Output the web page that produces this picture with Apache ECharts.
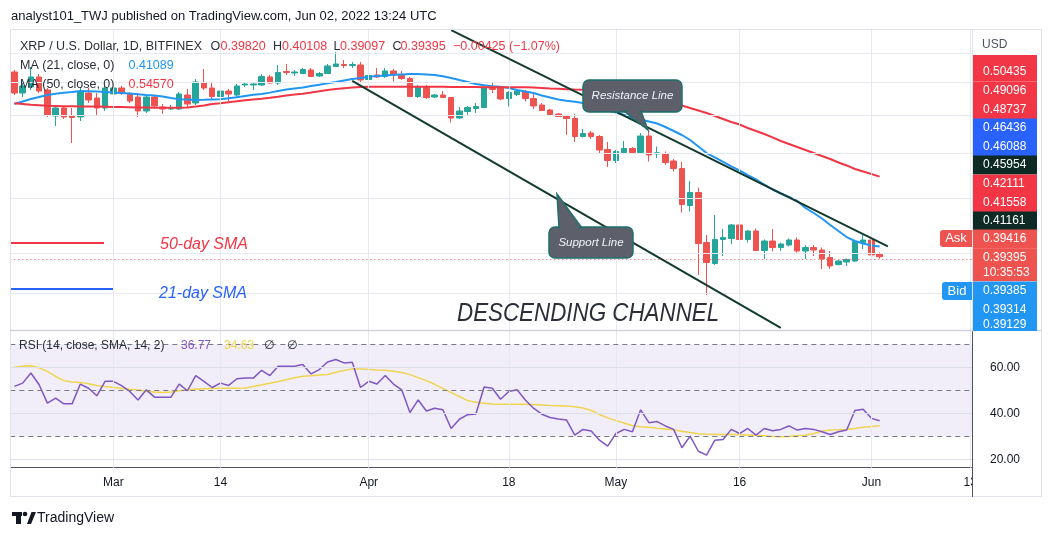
<!DOCTYPE html>
<html>
<head>
<meta charset="utf-8">
<script src="https://cdn.jsdelivr.net/npm/echarts@6/dist/echarts.min.js"></script>
<style>
html, body { margin: 0; padding: 0; background: #fff; }
#chart { width: 1052px; height: 536px; }
</style>
</head>
<body>
<div id="chart"></div>
<script>
// daily candles from 2022-02-17, axis runs on to 2022-06-13
var dates = [];
for (var i = 0; i < 117; i++) {
    dates.push(new Date(Date.UTC(2022, 1, 17 + i)).toISOString().slice(0, 10));
}

// [open, close, low, high]
var candles = [
    [0.8349, 0.7665, 0.7603, 0.8417], [0.7665, 0.7887, 0.7541, 0.8017], [0.7855, 0.8181, 0.7759, 0.8520],
    [0.8181, 0.7727, 0.7665, 0.8281], [0.7759, 0.7010, 0.6953, 0.7823], [0.6982, 0.7212, 0.6703, 0.7271],
    [0.7212, 0.6953, 0.6897, 0.7271], [0.6982, 0.6939, 0.6255, 0.7212], [0.6953, 0.7696, 0.6840, 0.7823],
    [0.7665, 0.7450, 0.7360, 0.7823], [0.7511, 0.7212, 0.7010, 0.7665], [0.7212, 0.7823, 0.7125, 0.7919],
    [0.7634, 0.7823, 0.7541, 0.7887], [0.7823, 0.7665, 0.7603, 0.7887], [0.7634, 0.7420, 0.7360, 0.7696],
    [0.7541, 0.7125, 0.6953, 0.7603], [0.7125, 0.7541, 0.7067, 0.7603], [0.7541, 0.7271, 0.7212, 0.7603],
    [0.7241, 0.7183, 0.7039, 0.7330], [0.7182, 0.7227, 0.7154, 0.7300], [0.7182, 0.7634, 0.7154, 0.7696],
    [0.7603, 0.7330, 0.7212, 0.7792], [0.7360, 0.8017, 0.7300, 0.8115], [0.8000, 0.7823, 0.7759, 0.8451],
    [0.7823, 0.7557, 0.7450, 0.8017], [0.7557, 0.7727, 0.7511, 0.7792], [0.7727, 0.7634, 0.7420, 0.7792],
    [0.7603, 0.7887, 0.7541, 0.7952], [0.7919, 0.7952, 0.7855, 0.8017], [0.7919, 0.7952, 0.7759, 0.8017],
    [0.7919, 0.8198, 0.7887, 0.8281], [0.8181, 0.7984, 0.7952, 0.8248], [0.7984, 0.8332, 0.7919, 0.8590],
    [0.8366, 0.8332, 0.8248, 0.8625], [0.8315, 0.8349, 0.8214, 0.8417], [0.8298, 0.8434, 0.8281, 0.8486],
    [0.8417, 0.8198, 0.8181, 0.8486], [0.8214, 0.8298, 0.8181, 0.8349], [0.8298, 0.8555, 0.8281, 0.8625],
    [0.8538, 0.8625, 0.8520, 0.9055], [0.8607, 0.8573, 0.8486, 0.8766], [0.8573, 0.8607, 0.8486, 0.8695],
    [0.8590, 0.8082, 0.7984, 0.8695], [0.8098, 0.8231, 0.8049, 0.8315], [0.8248, 0.8181, 0.8148, 0.8486],
    [0.8198, 0.8383, 0.8148, 0.8486], [0.8383, 0.8248, 0.8033, 0.8451], [0.8264, 0.8132, 0.8082, 0.8383],
    [0.8132, 0.7557, 0.7541, 0.8181], [0.7557, 0.7855, 0.7511, 0.7919], [0.7855, 0.7526, 0.7480, 0.7919],
    [0.7541, 0.7603, 0.7511, 0.7634], [0.7603, 0.7526, 0.7511, 0.7727], [0.7526, 0.6925, 0.6799, 0.7541],
    [0.6925, 0.7125, 0.6897, 0.7241], [0.7110, 0.7227, 0.7010, 0.7271], [0.7197, 0.7256, 0.7067, 0.7360],
    [0.7227, 0.7839, 0.7212, 0.7919], [0.7871, 0.7775, 0.7665, 0.7984], [0.7823, 0.7480, 0.7450, 0.7887],
    [0.7495, 0.7680, 0.7256, 0.7727], [0.7618, 0.7727, 0.7572, 0.7792], [0.7711, 0.7495, 0.7405, 0.7759],
    [0.7495, 0.7271, 0.7182, 0.7665], [0.7300, 0.7140, 0.7125, 0.7360], [0.7154, 0.7024, 0.7010, 0.7182],
    [0.7039, 0.6968, 0.6953, 0.7067], [0.6982, 0.6911, 0.6462, 0.7010], [0.6911, 0.6423, 0.6281, 0.7039],
    [0.6423, 0.6502, 0.6397, 0.6621], [0.6515, 0.6423, 0.6358, 0.6568], [0.6423, 0.6080, 0.6006, 0.6462],
    [0.6092, 0.5826, 0.5672, 0.6281], [0.5826, 0.6043, 0.5767, 0.6080], [0.6018, 0.6117, 0.5994, 0.6306],
    [0.6117, 0.6018, 0.5982, 0.6154], [0.6018, 0.6436, 0.6006, 0.6515], [0.6436, 0.5958, 0.5803, 0.6595],
    [0.5986, 0.6011, 0.5886, 0.6168], [0.5994, 0.5779, 0.5719, 0.6043], [0.5814, 0.5639, 0.5571, 0.5862],
    [0.5639, 0.4872, 0.4716, 0.5791], [0.4852, 0.5115, 0.4735, 0.5360], [0.5115, 0.4157, 0.3658, 0.5220],
    [0.4174, 0.3849, 0.3372, 0.4304], [0.3833, 0.4226, 0.3810, 0.4668], [0.4226, 0.4260, 0.3951, 0.4411],
    [0.4243, 0.4483, 0.4149, 0.4501], [0.4483, 0.4226, 0.4074, 0.4501], [0.4226, 0.4374, 0.4174, 0.4392],
    [0.4374, 0.4041, 0.4033, 0.4419], [0.4041, 0.4200, 0.3904, 0.4226], [0.4200, 0.4090, 0.4025, 0.4410],
    [0.4090, 0.4149, 0.4033, 0.4174], [0.4132, 0.4217, 0.4107, 0.4243], [0.4217, 0.4033, 0.4008, 0.4260],
    [0.4033, 0.4090, 0.3904, 0.4132], [0.4090, 0.4049, 0.3951, 0.4132], [0.4049, 0.3904, 0.3748, 0.4090],
    [0.3928, 0.3794, 0.3748, 0.4033], [0.3818, 0.3872, 0.3803, 0.3888], [0.3856, 0.3896, 0.3794, 0.3911],
    [0.3872, 0.4191, 0.3856, 0.4200], [0.4174, 0.4217, 0.4065, 0.4304], [0.4217, 0.3968, 0.3888, 0.4234],
    [0.39820, 0.39395, 0.39097, 0.40108]
];

var ma21 = [
    0.7330, 0.7405, 0.7480, 0.7541, 0.7603, 0.7640, 0.7671, 0.7696, 0.7727, 0.7721,
    0.7711, 0.7696, 0.7680, 0.7665, 0.7649, 0.7628, 0.7603, 0.7588, 0.7557, 0.7511,
    0.7471, 0.7462, 0.7453, 0.7456, 0.7465, 0.7474, 0.7505, 0.7535, 0.7572, 0.7609,
    0.7634, 0.7677, 0.7727, 0.7775, 0.7810, 0.7839, 0.7887, 0.7930, 0.7975, 0.8017,
    0.8066, 0.8115, 0.8148, 0.8191, 0.8214, 0.8234, 0.8254, 0.8268, 0.8278, 0.8281,
    0.8268, 0.8248, 0.8204, 0.8148, 0.8082, 0.8017, 0.7952, 0.7910, 0.7878, 0.7862,
    0.7823, 0.7759, 0.7711, 0.7665, 0.7588, 0.7526, 0.7465, 0.7426, 0.7396, 0.7360,
    0.7300, 0.7227, 0.7140, 0.7082, 0.7010, 0.6939, 0.6882, 0.6826, 0.6771, 0.6676,
    0.6568, 0.6462, 0.6332, 0.6166, 0.6006, 0.5898, 0.5791, 0.5687, 0.5594, 0.5492,
    0.5393, 0.5284, 0.5178, 0.5095, 0.5024, 0.4942, 0.4803, 0.4706, 0.4603, 0.4483,
    0.4374, 0.4268, 0.4200, 0.4157, 0.4124, 0.41089
];

var ma50 = [
    0.7351, 0.7330, 0.7307, 0.7292, 0.7277, 0.7271, 0.7265, 0.7262, 0.7259, 0.7256,
    0.7253, 0.7250, 0.7245, 0.7239, 0.7233, 0.7227, 0.7224, 0.7221, 0.7221, 0.7221,
    0.7221, 0.7227, 0.7256, 0.7286, 0.7330, 0.7351, 0.7384, 0.7414, 0.7441, 0.7468,
    0.7489, 0.7517, 0.7551, 0.7588, 0.7618, 0.7640, 0.7680, 0.7721, 0.7759, 0.7792,
    0.7817, 0.7839, 0.7855, 0.7862, 0.7865, 0.7865, 0.7865, 0.7865, 0.7865, 0.7862,
    0.7862, 0.7862, 0.7862, 0.7858, 0.7855, 0.7855, 0.7852, 0.7849, 0.7849, 0.7846,
    0.7846, 0.7849, 0.7846, 0.7836, 0.7823, 0.7810, 0.7798, 0.7785, 0.7775, 0.7766,
    0.7753, 0.7727, 0.7696, 0.7655, 0.7609, 0.7572, 0.7548, 0.7511, 0.7462, 0.7405,
    0.7345, 0.7286, 0.7212, 0.7140, 0.7067, 0.6982, 0.6897, 0.6813, 0.6744, 0.6649,
    0.6568, 0.6489, 0.6399, 0.6306, 0.6230, 0.6154, 0.6080, 0.6006, 0.5934, 0.5862,
    0.5779, 0.5710, 0.5628, 0.5571, 0.5515, 0.5457
];

var rsi = [
    51.7, 53.1, 57.5, 52.4, 44.4, 46.6, 44.1, 44.1, 52.7, 50.9,
    47.6, 53.9, 53.9, 52.0, 49.5, 45.8, 50.2, 47.0, 47.0, 47.0,
    52.7, 49.8, 56.4, 53.9, 51.2, 53.1, 52.1, 55.0, 55.3, 55.3,
    58.7, 56.4, 60.4, 60.4, 60.4, 61.2, 57.1, 59.0, 62.3, 63.4,
    61.9, 62.2, 51.2, 53.9, 52.7, 56.4, 52.7, 50.2, 40.3, 45.8,
    41.0, 42.2, 41.5, 33.4, 37.4, 39.4, 39.7, 51.4, 50.9, 46.1,
    49.5, 50.2, 45.8, 42.2, 39.6, 38.2, 37.5, 37.1, 30.5, 33.0,
    32.3, 28.3, 25.7, 31.2, 33.0, 32.0, 41.5, 35.9, 36.4, 34.5,
    33.0, 25.0, 30.1, 23.5, 21.8, 28.3, 28.6, 33.0, 31.2, 33.4,
    30.5, 33.4, 32.4, 33.0, 34.5, 32.7, 33.4, 33.0, 32.0, 30.8,
    32.0, 32.7, 41.2, 41.8, 37.8, 36.77
];

var rsiMa = [
    60.0, 60.5, 60.7, 59.8, 58.2, 56.0, 54.2, 53.6, 53.4, 52.8,
    52.1, 51.6, 51.2, 50.8, 50.4, 50.1, 49.6, 49.2, 49.0, 49.3,
    49.8, 50.2, 50.5, 50.7, 50.8, 50.9, 50.9, 50.9, 51.0, 51.6,
    52.4, 53.1, 53.8, 54.6, 55.4, 56.1, 56.3, 56.6, 56.9, 57.8,
    58.6, 59.3, 59.2, 59.0, 58.8, 58.7, 58.3, 57.7, 56.8, 55.5,
    54.2, 52.6, 50.8, 49.0, 47.3, 45.5, 44.8, 44.4, 44.0, 43.9,
    43.9, 43.9, 43.9, 43.8, 43.6, 43.4, 43.3, 43.2, 42.8, 42.3,
    41.2, 39.5, 38.0, 36.8, 35.8, 34.6, 34.2, 33.9, 33.5, 33.2,
    32.8, 32.2, 31.6, 31.1, 30.9, 30.8, 30.8, 30.8, 30.7, 30.6,
    30.5, 30.2, 29.9, 29.8, 29.9, 30.2, 30.5, 31.2, 32.2, 32.7,
    32.8, 33.0, 33.4, 33.9, 34.3, 34.63
];

var tickDates = ['2022-03-01', '2022-03-14', '2022-04-01', '2022-04-18', '2022-05-01', '2022-05-16', '2022-06-01', '2022-06-13'];
var tickLabels = ['Mar', '14', 'Apr', '18', 'May', '16', 'Jun', '13'];
var priceGrid = [0.34, 0.40, 0.50, 0.60, 0.70, 0.80, 0.90];
var lastPrice = 0.39395;

// drawn channel: [day index, price] end points
var resistanceLine = [[53, 0.9898], [106, 0.4110]];
var supportLine = [[41, 0.8050], [93, 0.2949]];

// price scale tags on the right
var priceTags = [
    ['0.50435', '#f23645'], ['0.49096', '#f23645'], ['0.48737', '#f23645'],
    ['0.46436', '#2962ff'], ['0.46088', '#2962ff'], ['0.45954', '#0d2b24'],
    ['0.42111', '#f23645'], ['0.41558', '#f23645'], ['0.41161', '#0d2b24'],
    ['0.39416', '#ef5350'], ['0.39395', '#ef5350'], ['0.39385', '#2196f3'],
    ['0.39314', '#2196f3'], ['0.39129', '#2196f3']
];
var tagY = [72, 91, 109.5, 128, 146.5, 165, 184, 202.5, 221, 239, 257.7, 291, 309.5, 325];

var gridLine = { color: '#e6e9f0', width: 1, type: 'solid' };

function vLines() {
    return tickDates.map(function (d) { return { xAxis: d, lineStyle: gridLine }; });
}

function txt(x, y, s, color, font, align) {
    return {
        type: 'text', x: x, y: y, z: 120,
        style: { text: s, fill: color, font: font, align: align || 'left', verticalAlign: 'middle' }
    };
}

var legendFont = '12.5px "Liberation Sans", Arial, sans-serif';
var red = '#f23645';
var gray = '#2a2e39';

var channelText = txt(457, 314, 'DESCENDING CHANNEL', '#2a2e39', 'italic 26px "Liberation Sans", Arial, sans-serif');
channelText.scaleX = 0.86;

var graphics = [
    // right price scale panel
    { type: 'rect', z: 100, shape: { x: 972, y: 28, width: 80, height: 475 }, style: { fill: '#fff' } },
    { type: 'line', z: 101, shape: { x1: 10.5, y1: 30, x2: 10.5, y2: 497 }, style: { stroke: '#e0e3eb' } },
    { type: 'line', z: 101, shape: { x1: 10, y1: 29.5, x2: 1042, y2: 29.5 }, style: { stroke: '#e0e3eb' } },
    { type: 'line', z: 101, shape: { x1: 10, y1: 496.5, x2: 1042, y2: 496.5 }, style: { stroke: '#e0e3eb' } },
    { type: 'line', z: 101, shape: { x1: 1041.5, y1: 30, x2: 1041.5, y2: 497 }, style: { stroke: '#e0e3eb' } },
    { type: 'line', z: 101, shape: { x1: 972.5, y1: 30, x2: 972.5, y2: 330 }, style: { stroke: '#e0e3eb' } },
    { type: 'line', z: 101, shape: { x1: 972.5, y1: 330, x2: 972.5, y2: 497 }, style: { stroke: '#50535e' } },
    { type: 'line', z: 101, shape: { x1: 10, y1: 330.5, x2: 1042, y2: 330.5 }, style: { stroke: '#d1d4dc', lineWidth: 1.5 } },
    txt(982, 45, 'USD', '#50535e', '12px "Liberation Sans", Arial, sans-serif'),
    txt(990, 367.7, '60.00', '#131722', '12px "Liberation Sans", Arial, sans-serif'),
    txt(990, 413.7, '40.00', '#131722', '12px "Liberation Sans", Arial, sans-serif'),
    txt(990, 459.7, '20.00', '#131722', '12px "Liberation Sans", Arial, sans-serif'),

    // header and legends
    txt(11, 16.5, 'analyst101_TWJ published on TradingView.com, Jun 02, 2022 13:24 UTC', '#131722', '13px "Liberation Sans", Arial, sans-serif'),
    txt(20, 47, 'XRP / U.S. Dollar, 1D, BITFINEX', gray, legendFont),
    txt(210.5, 47, 'O', gray, legendFont), txt(220.5, 47, '0.39820', red, legendFont),
    txt(273, 47, 'H', gray, legendFont), txt(282, 47, '0.40108', red, legendFont),
    txt(333.5, 47, 'L', gray, legendFont), txt(340, 47, '0.39097', red, legendFont),
    txt(392.5, 47, 'C', gray, legendFont), txt(400.5, 47, '0.39395', red, legendFont),
    txt(453, 47, '\u22120.00425 (\u22121.07%)', red, legendFont),
    txt(20, 65.7, 'MA (21, close, 0)', gray, legendFont), txt(128.5, 65.7, '0.41089', '#2196f3', legendFont),
    txt(20, 84.3, 'MA (50, close, 0)', gray, legendFont), txt(128.5, 84.3, '0.54570', red, legendFont),
    txt(19, 346, 'RSI (14, close, SMA, 14, 2)', gray, '12px "Liberation Sans", Arial, sans-serif'),
    txt(181, 346, '36.77', '#7e57c2', '12px "Liberation Sans", Arial, sans-serif'),
    txt(224, 346, '34.63', '#f0d44e', '12px "Liberation Sans", Arial, sans-serif'),
    txt(264, 346, '\u2205', gray, '12px "DejaVu Sans", sans-serif'),
    txt(287, 346, '\u2205', gray, '12px "DejaVu Sans", sans-serif'),

    // hand drawn SMA key
    { type: 'line', z: 90, shape: { x1: 11, y1: 243, x2: 104, y2: 243 }, style: { stroke: '#f23645', lineWidth: 2 } },
    { type: 'line', z: 90, shape: { x1: 11, y1: 289, x2: 113, y2: 289 }, style: { stroke: '#2962ff', lineWidth: 2 } },
    txt(160, 245, '50-day SMA', '#f23645', 'italic 16px "Liberation Sans", Arial, sans-serif'),
    txt(159, 294, '21-day SMA', '#2962ff', 'italic 16px "Liberation Sans", Arial, sans-serif'),
    channelText,

    // callouts
    { type: 'rect', z: 95, shape: { x: 583, y: 80, width: 99, height: 32, r: 6 }, style: { fill: '#5d606b', stroke: '#1f6f6b', lineWidth: 1.5 } },
    { type: 'polygon', z: 95, shape: { points: [[624, 111], [641, 111], [648, 130]] }, style: { fill: '#5d606b', stroke: '#1f6f6b', lineWidth: 1.5 } },
    { type: 'polygon', z: 96, shape: { points: [[625.5, 109.5], [639.5, 109.5], [645.5, 125]] }, style: { fill: '#5d606b' } },
    txt(632.5, 96, 'Resistance Line', '#f0f3fa', 'italic 11.5px "Liberation Sans", Arial, sans-serif', 'center'),
    { type: 'rect', z: 95, shape: { x: 549, y: 227, width: 84, height: 31, r: 6 }, style: { fill: '#5d606b', stroke: '#1f6f6b', lineWidth: 1.5 } },
    { type: 'polygon', z: 95, shape: { points: [[559, 228], [582, 228], [557, 194]] }, style: { fill: '#5d606b', stroke: '#1f6f6b', lineWidth: 1.5 } },
    { type: 'polygon', z: 96, shape: { points: [[560.5, 229.5], [579.5, 229.5], [558.5, 198]] }, style: { fill: '#5d606b' } },
    txt(591, 242.5, 'Support Line', '#f0f3fa', 'italic 11.5px "Liberation Sans", Arial, sans-serif', 'center'),

    // TradingView mark
    { type: 'rect', z: 90, shape: { x: 12, y: 512, width: 10, height: 4 }, style: { fill: '#131722' } },
    { type: 'rect', z: 90, shape: { x: 16, y: 512, width: 5, height: 12 }, style: { fill: '#131722' } },
    { type: 'circle', z: 90, shape: { cx: 25, cy: 514, r: 2.3 }, style: { fill: '#131722' } },
    { type: 'polygon', z: 90, shape: { points: [[27, 524], [31.5, 512], [36, 512], [31, 524]] }, style: { fill: '#131722' } },
    txt(37, 518, 'TradingView', '#131722', '14px "Liberation Sans", Arial, sans-serif')
];

// price tags
graphics.push({ type: 'rect', z: 105, shape: { x: 973, y: 55, width: 64, height: 8 }, style: { fill: '#f23645' } });
priceTags.forEach(function (t, k) {
    var h = k === 10 ? 33 : 19;
    graphics.push({ type: 'rect', z: 105, shape: { x: 973, y: tagY[k] - 9.5, width: 64, height: h }, style: { fill: t[1] } });
});
priceTags.forEach(function (t, k) {
    graphics.push(txt(983, tagY[k], t[0], '#ffffff', '12px "Liberation Sans", Arial, sans-serif'));
});
graphics.push(txt(983, 272.3, '10:35:53', '#ffffff', '12px "Liberation Sans", Arial, sans-serif'));
// tags are cut at the bottom of the price pane
graphics.push({ type: 'rect', z: 125, shape: { x: 973, y: 331, width: 68, height: 12 }, style: { fill: '#fff' } });
graphics.push({ type: 'rect', z: 106, shape: { x: 940, y: 230, width: 32, height: 17, r: [3, 0, 0, 3] }, style: { fill: '#ef5350' } });
graphics.push(txt(956, 238.5, 'Ask', '#ffffff', '13px "Liberation Sans", Arial, sans-serif', 'center'));
graphics.push({ type: 'rect', z: 106, shape: { x: 942, y: 282, width: 30, height: 18, r: [3, 0, 0, 3] }, style: { fill: '#2196f3' } });
graphics.push(txt(957, 291, 'Bid', '#ffffff', '13px "Liberation Sans", Arial, sans-serif', 'center'));
graphics.forEach(function (g) { g.silent = true; });

var chart = echarts.init(document.getElementById('chart'), null, { renderer: 'canvas' });

var option = {
    animation: false,
    backgroundColor: '#fff',
    grid: [
        { left: 10.3, right: 77.6, top: 30, height: 300 },
        { left: 10.3, right: 77.6, top: 330, height: 137.7 }
    ],
    xAxis: [
        { type: 'category', gridIndex: 0, data: dates, boundaryGap: true, axisLine: { show: false }, axisTick: { show: false }, axisLabel: { show: false }, splitLine: { show: false } },
        {
            type: 'category', gridIndex: 1, data: dates, boundaryGap: true,
            axisLine: { lineStyle: { color: '#50535e', width: 1 } },
            axisTick: { show: false },
            axisLabel: {
                color: '#131722', fontSize: 12, margin: 9, fontFamily: 'Liberation Sans, Arial, sans-serif',
                interval: function (idx, val) { return tickDates.indexOf(val) >= 0; },
                formatter: function (val) { return tickLabels[tickDates.indexOf(val)]; }
            },
            splitLine: { show: false }
        }
    ],
    yAxis: [
        { type: 'log', logBase: 10, gridIndex: 0, min: 0.2925, max: 0.9903, axisLine: { show: false }, axisTick: { show: false }, axisLabel: { show: false }, splitLine: { show: false } },
        { type: 'value', gridIndex: 1, min: 16.35, max: 76.2, axisLine: { show: false }, axisTick: { show: false }, axisLabel: { show: false }, splitLine: { show: false } }
    ],
    series: [
        {
            // main pane grid
            type: 'line', xAxisIndex: 0, yAxisIndex: 0, data: [], z: 1, silent: true,
            markLine: {
                silent: true, symbol: ['none', 'none'], label: { show: false }, animation: false,
                data: vLines().concat(priceGrid.map(function (p) { return { yAxis: p, lineStyle: gridLine }; }))
                    .concat([{ yAxis: lastPrice, lineStyle: { color: '#ef5350', width: 1, type: [1, 3] } }])
            }
        },
        {
            type: 'candlestick', name: 'XRPUSD', xAxisIndex: 0, yAxisIndex: 0, data: candles, z: 2,
            barWidth: 6,
            itemStyle: { color: '#26a69a', color0: '#ef5350', borderColor: '#26a69a', borderColor0: '#ef5350', borderWidth: 1 }
        },
        { type: 'line', name: 'MA21', data: ma21, xAxisIndex: 0, yAxisIndex: 0, z: 3, showSymbol: false, smooth: false, lineStyle: { color: '#2196f3', width: 2 }, itemStyle: { color: '#2196f3' } },
        { type: 'line', name: 'MA50', data: ma50, xAxisIndex: 0, yAxisIndex: 0, z: 3, showSymbol: false, smooth: false, lineStyle: { color: '#f23645', width: 2 }, itemStyle: { color: '#f23645' } },
        {
            // channel lines
            type: 'line', xAxisIndex: 0, yAxisIndex: 0, data: [], z: 4, silent: true,
            markLine: {
                silent: true, symbol: ['none', 'none'], label: { show: false }, animation: false,
                lineStyle: { color: '#123a2f', width: 2, type: 'solid' },
                data: [resistanceLine, supportLine].map(function (seg) {
                    return [{ coord: [dates[seg[0][0]], seg[0][1]] }, { coord: [dates[seg[1][0]], seg[1][1]] }];
                })
            }
        },
        {
            // RSI pane grid and band
            type: 'line', xAxisIndex: 1, yAxisIndex: 1, data: [], z: 1, silent: true,
            markArea: { silent: true, itemStyle: { color: '#f2eef9' }, data: [[{ yAxis: 30 }, { yAxis: 70 }]] },
            markLine: {
                silent: true, symbol: ['none', 'none'], label: { show: false }, animation: false,
                data: vLines().concat([60, 40, 20].map(function (v) { return { yAxis: v, lineStyle: { color: '#dcdfe8', width: 1, type: 'solid' } }; }))
                    .concat([70, 50, 30].map(function (v) { return { yAxis: v, lineStyle: { color: '#787b86', width: 1, type: [5, 4] } }; }))
            }
        },
        { type: 'line', name: 'RSI MA', data: rsiMa, xAxisIndex: 1, yAxisIndex: 1, z: 3, showSymbol: false, lineStyle: { color: '#f0d44e', width: 1.5 }, itemStyle: { color: '#f0d44e' } },
        { type: 'line', name: 'RSI', data: rsi, xAxisIndex: 1, yAxisIndex: 1, z: 4, showSymbol: false, lineStyle: { color: '#7e57c2', width: 1.5 }, itemStyle: { color: '#7e57c2' } }
    ],
    graphic: graphics
};

chart.setOption(option);
</script>
</body>
</html>
